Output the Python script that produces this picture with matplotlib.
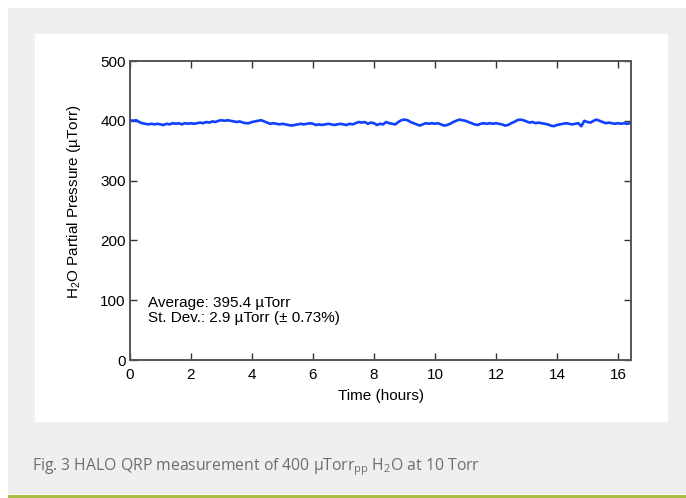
import numpy as np
import matplotlib.pyplot as plt
from matplotlib.patches import Rectangle

plt.rcParams['font.family'] = ['Liberation Sans', 'DejaVu Sans']
plt.rcParams['mathtext.fontset'] = 'custom'
plt.rcParams['mathtext.rm'] = 'Liberation Sans'
plt.rcParams['mathtext.sf'] = 'Open Sans'

# H2O partial pressure (uTorr), one reading every 0.1 h
t_step = 0.1
pressure = [
    401, 400, 401, 398, 396, 395, 394, 395, 394, 395,
    394, 393, 395, 394, 396, 395, 396, 394, 396, 395,
    396, 395, 396, 397, 396, 398, 397, 399, 398, 400,
    401, 400, 401, 400, 399, 398, 399, 397, 396, 396,
    398, 399, 400, 401, 399, 397, 395, 396, 395, 394,
    395, 394, 393, 392, 393, 394, 395, 394, 395, 396,
    395, 393, 394, 393, 394, 395, 394, 393, 394, 395,
    394, 393, 395, 394, 396, 398, 397, 398, 395, 397,
    396, 393, 395, 394, 398, 396, 395, 394, 398, 401,
    402, 401, 398, 396, 394, 392, 394, 396, 395, 396,
    395, 396, 394, 392, 393, 395, 398, 400, 402, 401,
    400, 398, 396, 394, 393, 395, 396, 395, 396, 395,
    396, 395, 394, 392, 393, 396, 398, 401, 402, 401,
    399, 397, 398, 396, 397, 396, 395, 394, 392, 391,
    393, 394, 395, 396, 395, 394, 395, 396, 391, 400,
    398, 397, 400, 402, 400, 398, 396, 397, 396, 395,
    396, 395, 396, 395, 396,
]
hours = np.arange(len(pressure)) * t_step

x_ticks = np.arange(0, 17, 2)
y_ticks = np.arange(0, 501, 100)
stats_text = "Average: 395.4 \u00b5Torr\nSt. Dev.: 2.9 \u00b5Torr (\u00b1 0.73%)"
caption = ("Fig. 3 HALO QRP measurement of 400 \u00b5Torr$_{\\mathsf{pp}}$ "
           "H$_{\\mathsf{2}}$O at 10 Torr")

W, H = 686, 498
fig = plt.figure(figsize=(W / 100, H / 100), dpi=100)
fig.patch.set_facecolor('white')


def box(x0, y0, x1, y1, color):
    # pixel box (top-left origin) -> figure fraction
    fig.patches.append(Rectangle((x0 / W, 1 - y1 / H), (x1 - x0) / W, (y1 - y0) / H,
                                 transform=fig.transFigure, facecolor=color,
                                 edgecolor='none', zorder=-10))


box(8, 8, 686, 494, '#efefef')
box(35, 34, 668, 422, 'white')
box(8, 495, 686, 498, '#a9bd45')

ax = fig.add_axes([130 / W, 1 - 360 / H, 501 / W, 299 / H])
ax.set_zorder(5)
ax.plot(hours, pressure, color='#1040ff', linewidth=1.9)

ax.set_xlim(0, 16.43)
ax.set_ylim(0, 500)
ax.set_xticks(x_ticks)
ax.set_yticks(y_ticks)
ax.tick_params(direction='in', top=True, right=True, length=5, width=1,
               labelsize=11, color='#333333')
ax.tick_params(axis='x', pad=6)
ax.tick_params(axis='y', pad=3)
for s in ax.spines.values():
    s.set_color('#555555')
    s.set_linewidth(1.4)

ax.set_xlabel('Time (hours)', fontsize=11, labelpad=5)
ax.set_ylabel('H$_2$O Partial Pressure (\u00b5Torr)', fontsize=11)
ax.yaxis.set_label_coords(-0.094, 0.53)

ax.text(0.6, 83, stats_text, fontsize=11, va='center', ha='left', linespacing=1.1)

fig.text(32 / W, 1 - 467 / H, caption, fontsize=11.3, family='Open Sans',
         color='#6e6e6e', va='center', ha='left', zorder=6)

fig.savefig('out.png', dpi=100)
